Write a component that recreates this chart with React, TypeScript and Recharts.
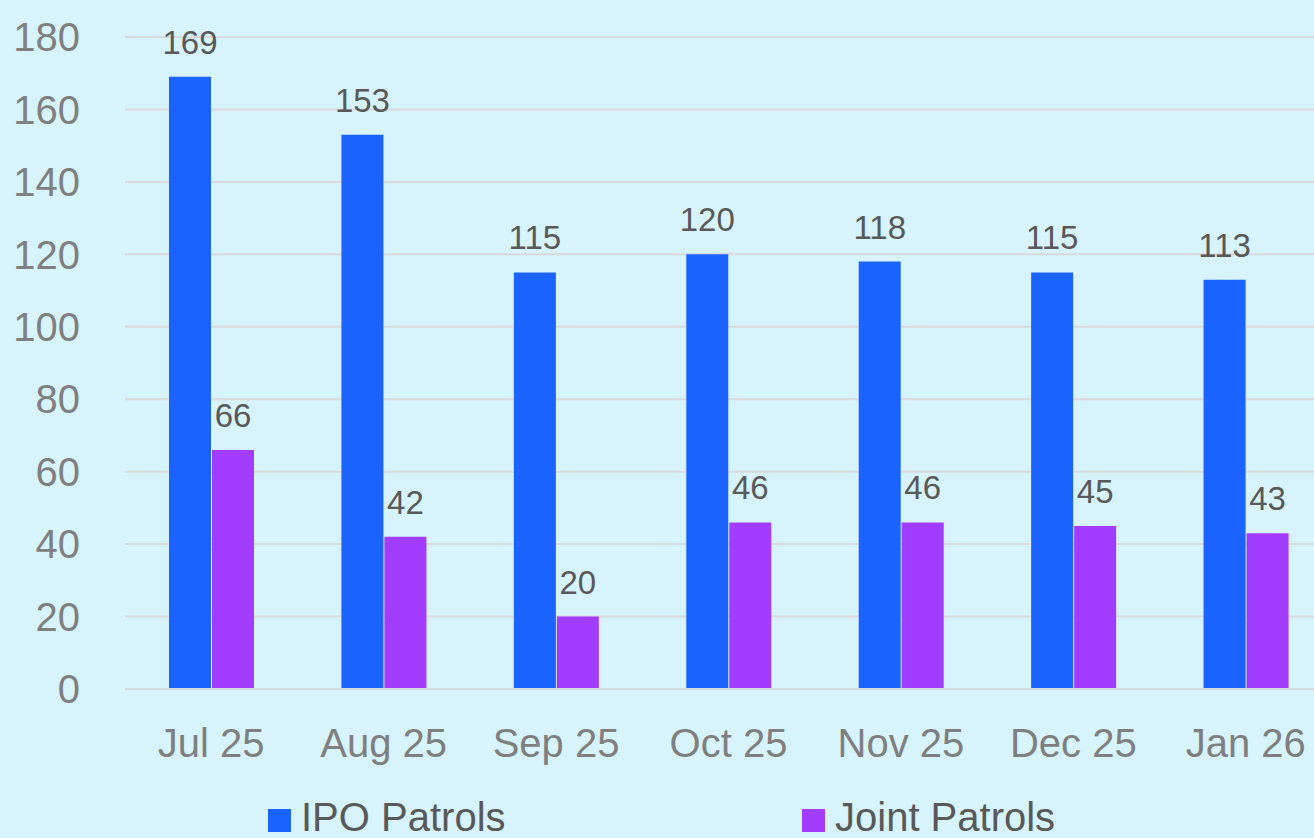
import { Bar, BarChart, CartesianGrid, LabelList, XAxis, YAxis } from "recharts"

const months = ["Jul 25", "Aug 25", "Sep 25", "Oct 25", "Nov 25", "Dec 25", "Jan 26"]
const ipoPatrols = [169, 153, 115, 120, 118, 115, 113]
const jointPatrols = [66, 42, 20, 46, 46, 45, 43]
const yTicks = [0, 20, 40, 60, 80, 100, 120, 140, 160, 180]

const data = months.map((month, i) => ({
  month,
  ipo: ipoPatrols[i],
  joint: jointPatrols[i],
}))

const BLUE = "#1a63ff"
const PURPLE = "#a23cff"
const FONT = "'Liberation Sans', Arial, sans-serif"

export default function App() {
  return (
    <div
      style={{
        position: "fixed",
        left: 0,
        top: 0,
        width: 1314,
        height: 838,
        overflow: "hidden",
        background: "#d7f3fb",
        fontFamily: FONT,
      }}
    >
      <BarChart
        width={1314}
        height={838}
        data={data}
        margin={{ top: 37, right: -18, left: 0, bottom: 59 }}
        barGap={1}
        barSize={42}
      >
        <CartesianGrid horizontal vertical={false} stroke="#d9d9d9" strokeWidth={2} />
        <XAxis
          dataKey="month"
          height={90}
          axisLine={{ stroke: "#d9d9d9", strokeWidth: 2 }}
          tickLine={false}
          tickSize={0}
          tickMargin={40}
          tick={{ fontSize: 40, fill: "#7f7f7f", fontFamily: FONT }}
        />
        <YAxis
          width={125}
          domain={[0, 180]}
          ticks={yTicks}
          axisLine={false}
          tickLine={false}
          tickSize={0}
          tickMargin={45}
          tick={{ fontSize: 40, fill: "#7f7f7f", fontFamily: FONT }}
        />
        <Bar dataKey="ipo" name="IPO Patrols" fill={BLUE} isAnimationActive={false}>
          <LabelList dataKey="ipo" position="top" offset={23} fill="#595959" fontSize={33} fontFamily={FONT} />
        </Bar>
        <Bar dataKey="joint" name="Joint Patrols" fill={PURPLE} isAnimationActive={false}>
          <LabelList dataKey="joint" position="top" offset={23} fill="#595959" fontSize={33} fontFamily={FONT} />
        </Bar>
      </BarChart>
      {[
        { label: "IPO Patrols", color: BLUE, x: 268 },
        { label: "Joint Patrols", color: PURPLE, x: 802 },
      ].map((item) => (
        <div
          key={item.label}
          style={{
            position: "absolute",
            left: item.x,
            top: 797,
            display: "flex",
            alignItems: "center",
            fontSize: 40,
            color: "#595959",
            lineHeight: "40px",
            whiteSpace: "nowrap",
          }}
        >
          <span style={{ width: 23, height: 23, background: item.color, marginRight: 10, marginTop: 6 }} />
          {item.label}
        </div>
      ))}
    </div>
  )
}
